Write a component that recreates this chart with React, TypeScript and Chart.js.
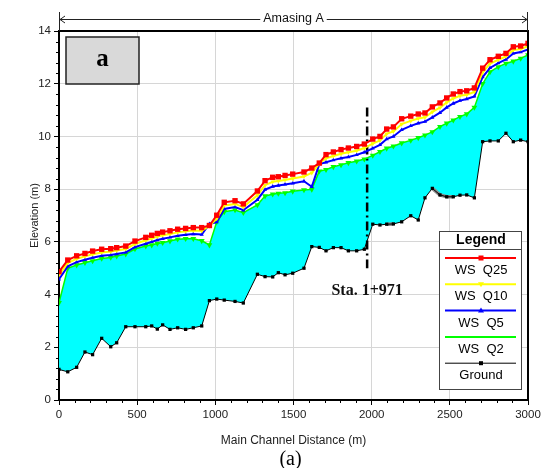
import React, { useEffect, useRef } from 'react';
import { Chart, registerables } from 'chart.js';

Chart.register(...registerables);

// ---------- data ----------
const STATIONS = [
  0, 56, 113, 166, 215, 273, 331, 369, 427, 486, 555, 593, 629, 663, 710, 759, 810, 859, 913, 962,
  1009, 1057, 1126, 1179, 1269, 1318, 1367, 1403, 1446, 1495, 1567, 1617, 1665, 1708, 1755, 1804, 1851, 1904, 1953,
  2007, 2053, 2096, 2139, 2192, 2250, 2298, 2341, 2388, 2437, 2480, 2522, 2565, 2608, 2657, 2710, 2757, 2810, 2859,
  2906, 2953, 3000,
];

const WS_Q25 = [
  4.87, 5.31, 5.47, 5.56, 5.65, 5.72, 5.74, 5.78, 5.84, 6.03, 6.17, 6.25, 6.32, 6.37, 6.42, 6.48, 6.51, 6.54, 6.54, 6.62,
  7.01, 7.50, 7.56, 7.44, 7.93, 8.32, 8.45, 8.47, 8.52, 8.57, 8.65, 8.80, 8.99, 9.31, 9.41, 9.50, 9.56, 9.62, 9.71,
  9.90, 10.0, 10.28, 10.36, 10.67, 10.77, 10.85, 10.89, 11.12, 11.27, 11.46, 11.61, 11.70, 11.73, 11.84, 12.59, 12.91, 13.04, 13.15,
  13.40, 13.43, 13.53,
];

const WS_Q10 = [
  4.75, 5.20, 5.36, 5.45, 5.53, 5.60, 5.63, 5.67, 5.73, 5.92, 6.06, 6.13, 6.20, 6.25, 6.30, 6.36, 6.40, 6.43, 6.42, 6.60,
  6.88, 7.38, 7.44, 7.32, 7.77, 8.15, 8.28, 8.31, 8.35, 8.40, 8.48, 8.62, 8.97, 9.17, 9.26, 9.34, 9.40, 9.46, 9.56,
  9.73, 9.85, 10.10, 10.19, 10.47, 10.59, 10.68, 10.73, 10.93, 11.09, 11.29, 11.44, 11.54, 11.58, 11.69, 12.43, 12.76, 12.91, 13.04,
  13.28, 13.32, 13.42,
];

const WS_Q5 = [
  4.58, 5.07, 5.23, 5.32, 5.40, 5.47, 5.50, 5.54, 5.60, 5.80, 5.93, 6.00, 6.07, 6.12, 6.17, 6.23, 6.27, 6.30, 6.28, 6.68,
  6.75, 7.25, 7.32, 7.20, 7.60, 7.98, 8.10, 8.14, 8.18, 8.22, 8.30, 8.09, 8.95, 9.02, 9.10, 9.17, 9.22, 9.30, 9.40,
  9.55, 9.68, 9.90, 10.00, 10.25, 10.40, 10.50, 10.56, 10.72, 10.90, 11.10, 11.25, 11.36, 11.42, 11.52, 12.25, 12.60, 12.78, 12.92,
  13.15, 13.20, 13.30,
];

const WS_Q2 = [
  3.69, 5.00, 5.12, 5.21, 5.28, 5.37, 5.41, 5.46, 5.54, 5.73, 5.84, 5.88, 5.94, 5.97, 6.03, 6.10, 6.12, 6.12, 6.04, 5.88,
  6.76, 7.14, 7.21, 7.11, 7.40, 7.74, 7.81, 7.84, 7.86, 7.92, 7.97, 7.99, 8.68, 8.74, 8.85, 8.92, 9.00, 9.06, 9.14,
  9.28, 9.42, 9.55, 9.63, 9.75, 9.85, 9.95, 10.05, 10.17, 10.37, 10.50, 10.62, 10.75, 10.85, 11.10, 12.00, 12.45, 12.64, 12.77,
  12.85, 12.96, 13.09,
];

const GROUND = [
  1.16, 1.07, 1.24, 1.82, 1.72, 2.34, 2.02, 2.17, 2.78, 2.78, 2.78, 2.81, 2.69, 2.85, 2.68, 2.74, 2.68, 2.74, 2.81, 3.77,
  3.83, 3.79, 3.74, 3.68, 4.77, 4.68, 4.67, 4.83, 4.75, 4.81, 5.00, 5.82, 5.79, 5.66, 5.78, 5.78, 5.66, 5.66, 5.72,
  6.67, 6.64, 6.67, 6.68, 6.76, 6.99, 6.83, 7.67, 8.03, 7.78, 7.71, 7.71, 7.77, 7.78, 7.67, 9.80, 9.83, 9.83, 10.12,
  9.80, 9.86, 9.80,
];

// grey highlighted ground segments (station, elevation)
const GRAY_X = [2096, 2139, null, 2388, 2437, 2480, 2522];
const GRAY_Y = [6.67, 6.68, null, 8.03, 7.78, 7.71, 7.71];

const SERIES_LABELS = ['WS  Q25', 'WS  Q10', 'WS  Q5', 'WS  Q2', 'Ground'];
const SERIES_COLORS = ['#ff0000', '#ffff00', '#0000ff', '#00ff00', '#000000'];

const X_MIN = 0, X_MAX = 3000, X_STEP = 500, X_MINOR = 100;
const Y_MIN = 0, Y_MAX = 14, Y_STEP = 2, Y_MINOR = 0.4;

const STA_X = 1971;
const STA_TOP = 11.1;
const STA_BOTTOM = 5.0;
const STA_LABEL = 'Sta. 1+971';
const REACH_LABEL = 'Amasing A';
const PANEL_LABEL = 'a';
const CAPTION = '(a)';
const X_TITLE = 'Main Channel Distance (m)';
const Y_TITLE = 'Elevation (m)';

const SANS = '"Liberation Sans", Arial, sans-serif';
const SERIF = '"Liberation Serif", "Times New Roman", serif';

const pts = (ys: number[]) => STATIONS.map((x, i) => ({ x, y: ys[i] }));

function drawMarker(ctx: CanvasRenderingContext2D, kind: string, x: number, y: number, color: string) {
  ctx.save();
  ctx.fillStyle = color;
  if (kind === 'rect') {
    ctx.fillRect(x - 2.5, y - 2.5, 5, 5);
  } else if (kind === 'rectSmall') {
    ctx.fillRect(x - 2, y - 2, 4, 4);
  } else if (kind === 'triDown') {
    ctx.beginPath();
    ctx.moveTo(x - 3, y - 2);
    ctx.lineTo(x + 3, y - 2);
    ctx.lineTo(x, y + 3);
    ctx.closePath();
    ctx.fill();
  } else if (kind === 'triUp') {
    ctx.beginPath();
    ctx.moveTo(x - 3, y + 2);
    ctx.lineTo(x + 3, y + 2);
    ctx.lineTo(x, y - 3);
    ctx.closePath();
    ctx.fill();
  }
  ctx.restore();
}

const decorPlugin = {
  id: 'decor',
  afterDraw(chart: any) {
    const ctx: CanvasRenderingContext2D = chart.ctx;
    const { left, right, top, bottom } = chart.chartArea;
    const xs = chart.scales.x;
    const ys = chart.scales.y;
    ctx.save();

    // frame top & right
    ctx.strokeStyle = '#000';
    ctx.lineWidth = 2;
    ctx.beginPath();
    ctx.moveTo(left - 1, top);
    ctx.lineTo(right, top);
    ctx.lineTo(right, bottom + 1);
    ctx.stroke();

    // minor ticks
    ctx.lineWidth = 1;
    ctx.beginPath();
    for (let v = X_MIN; v <= X_MAX + 0.001; v += X_MINOR) {
      if (Math.round(v) % X_STEP === 0) continue;
      const px = Math.round(xs.getPixelForValue(v)) + 0.5;
      ctx.moveTo(px, bottom);
      ctx.lineTo(px, bottom + 3);
    }
    const nMinor = Math.round((Y_MAX - Y_MIN) / Y_MINOR);
    for (let i = 0; i <= nMinor; i++) {
      if (i % Math.round(Y_STEP / Y_MINOR) === 0) continue;
      const py = Math.round(ys.getPixelForValue(Y_MIN + i * Y_MINOR)) + 0.5;
      ctx.moveTo(left - 3, py);
      ctx.lineTo(left, py);
    }
    ctx.stroke();

    // reach annotation above the plot
    const ay = top - 12;
    ctx.font = `12.5px ${SANS}`;
    ctx.fillStyle = '#111';
    ctx.textAlign = 'center';
    ctx.textBaseline = 'middle';
    const cx = (left + right) / 2;
    ctx.fillText(REACH_LABEL, cx, ay);
    const tw = ctx.measureText(REACH_LABEL).width;
    ctx.strokeStyle = '#222';
    ctx.lineWidth = 1;
    ctx.beginPath();
    ctx.moveTo(left, ay + 0.5);
    ctx.lineTo(cx - tw / 2 - 3, ay + 0.5);
    ctx.moveTo(cx + tw / 2 + 3, ay + 0.5);
    ctx.lineTo(right, ay + 0.5);
    ctx.moveTo(left + 0.5, top - 19);
    ctx.lineTo(left + 0.5, top);
    ctx.moveTo(right - 0.5, top - 19);
    ctx.lineTo(right - 0.5, top);
    ctx.moveTo(left + 6, ay - 3);
    ctx.lineTo(left + 1, ay + 0.5);
    ctx.lineTo(left + 6, ay + 4);
    ctx.moveTo(right - 6, ay - 3);
    ctx.lineTo(right - 1, ay + 0.5);
    ctx.lineTo(right - 6, ay + 4);
    ctx.stroke();

    // panel label box
    const bx = left + 7, by = top + 6, bw = 73, bh = 47;
    ctx.fillStyle = '#d9d9d9';
    ctx.fillRect(bx, by, bw, bh);
    ctx.strokeStyle = '#222';
    ctx.lineWidth = 1.5;
    ctx.strokeRect(bx, by, bw, bh);
    ctx.fillStyle = '#000';
    ctx.font = `bold 25px ${SERIF}`;
    ctx.textAlign = 'center';
    ctx.textBaseline = 'middle';
    ctx.fillText(PANEL_LABEL, bx + bw / 2, by + bh / 2 - 1);

    // station label
    const sx = xs.getPixelForValue(STA_X);
    const sy = ys.getPixelForValue(STA_BOTTOM) + 23;
    ctx.font = `bold 16px ${SERIF}`;
    ctx.fillStyle = '#111';
    ctx.fillText(STA_LABEL, sx, sy);

    // legend
    const lx = right - 89, rx = right - 7, ty = 231, byy = bottom - 11;
    ctx.fillStyle = '#fff';
    ctx.fillRect(lx, ty, rx - lx, byy - ty);
    ctx.strokeStyle = '#444';
    ctx.lineWidth = 1;
    ctx.strokeRect(lx + 0.5, ty + 0.5, rx - lx, byy - ty);
    const lcx = (lx + rx) / 2;
    ctx.fillStyle = '#000';
    ctx.font = `bold 14px ${SANS}`;
    ctx.fillText('Legend', lcx + 1, ty + 9);
    ctx.beginPath();
    ctx.moveTo(lx, ty + 18.5);
    ctx.lineTo(rx, ty + 18.5);
    ctx.stroke();
    const markers = ['rect', 'triDown', 'triUp', '', 'rectSmall'];
    for (let i = 0; i < SERIES_LABELS.length; i++) {
      const lineY = ty + 27 + i * 26.3;
      const textY = ty + 39.5 + i * 26.3;
      ctx.strokeStyle = SERIES_COLORS[i];
      ctx.lineWidth = i === 4 ? 1 : 2;
      ctx.beginPath();
      ctx.moveTo(lx + 6, lineY);
      ctx.lineTo(rx - 5, lineY);
      ctx.stroke();
      if (markers[i]) drawMarker(ctx, markers[i], lcx + 1, lineY, SERIES_COLORS[i]);
      ctx.fillStyle = '#000';
      ctx.font = `13px ${SANS}`;
      ctx.fillText(SERIES_LABELS[i], lcx + 1, textY);
    }

    // caption
    ctx.font = `20px ${SERIF}`;
    ctx.fillStyle = '#000';
    ctx.fillText(CAPTION, cx - 3, 460);

    ctx.restore();
  },
};

export default function App() {
  const ref = useRef<HTMLCanvasElement>(null);

  useEffect(() => {
    if (!ref.current) return;
    const grayData = GRAY_X.map((x, i) => (x === null ? { x: NaN, y: null } : { x, y: GRAY_Y[i] }));
    const chart = new Chart(ref.current, {
      type: 'line',
      data: {
        datasets: [
          {
            label: SERIES_LABELS[0], data: pts(WS_Q25), borderColor: SERIES_COLORS[0], backgroundColor: SERIES_COLORS[0],
            borderWidth: 2, pointStyle: 'rect', pointRadius: 3.8, pointBorderWidth: 0, fill: false,
          },
          {
            label: SERIES_LABELS[1], data: pts(WS_Q10), borderColor: SERIES_COLORS[1], backgroundColor: SERIES_COLORS[1],
            borderWidth: 2, pointStyle: 'triangle', pointRotation: 180, pointRadius: 2.6, pointBorderWidth: 0, fill: false,
          },
          {
            label: SERIES_LABELS[2], data: pts(WS_Q5), borderColor: SERIES_COLORS[2], backgroundColor: SERIES_COLORS[2],
            borderWidth: 2, pointStyle: 'triangle', pointRadius: 2.4, pointBorderWidth: 0, fill: false,
          },
          {
            label: SERIES_LABELS[3], data: pts(WS_Q2), borderColor: SERIES_COLORS[3], backgroundColor: '#00ffff',
            pointBackgroundColor: SERIES_COLORS[3], pointBorderColor: SERIES_COLORS[3],
            borderWidth: 1.5, pointStyle: 'triangle', pointRotation: 180, pointRadius: 3.4, pointBorderWidth: 0,
            fill: { target: 4 },
          },
          {
            label: SERIES_LABELS[4], data: pts(GROUND), borderColor: SERIES_COLORS[4], backgroundColor: SERIES_COLORS[4],
            borderWidth: 1, pointStyle: 'rect', pointRadius: 2.3, pointBorderWidth: 0, fill: false,
          },
          {
            label: '_gray', data: grayData as any, borderColor: '#888', borderWidth: 3.5, pointRadius: 0,
            fill: false, spanGaps: false,
          },
          {
            label: '_sta', data: [{ x: STA_X, y: STA_TOP }, { x: STA_X, y: STA_BOTTOM }], borderColor: '#000',
            borderWidth: 2.5, borderDash: [9, 4, 2, 4], pointRadius: 0, fill: false,
          },
        ],
      },
      options: {
        animation: false,
        responsive: false,
        devicePixelRatio: 1,
        layout: { padding: { top: 31, right: 19, left: 0, bottom: 0 } },
        elements: { line: { tension: 0 } },
        plugins: {
          legend: { display: false },
          tooltip: { enabled: false },
          filler: { propagate: false, drawTime: 'beforeDatasetsDraw' },
        },
        scales: {
          x: {
            type: 'linear', min: X_MIN, max: X_MAX,
            ticks: {
              stepSize: X_STEP, color: '#222', font: { family: SANS, size: 11.5 }, padding: 3,
              callback: (v: any) => String(v),
            },
            grid: { color: '#d6d6d6', lineWidth: 1, tickColor: '#000', tickLength: 5 },
            border: { color: '#000', width: 2 },
            title: {
              display: true, text: X_TITLE, color: '#222', font: { family: SANS, size: 12 },
              padding: { top: 0, bottom: 20 },
            },
            afterFit: (s: any) => { s.height = 68; },
          },
          y: {
            type: 'linear', min: Y_MIN, max: Y_MAX,
            ticks: {
              stepSize: Y_STEP, color: '#222', font: { family: SANS, size: 11.5 }, padding: 3,
              callback: (v: any) => String(v),
            },
            grid: { color: '#d6d6d6', lineWidth: 1, tickColor: '#000', tickLength: 5 },
            border: { color: '#000', width: 2 },
            title: {
              display: true, text: Y_TITLE, color: '#222', font: { family: SANS, size: 11 },
              padding: { top: 28, bottom: 0 },
            },
            afterFit: (s: any) => { s.width = 59; },
          },
        },
      },
      plugins: [decorPlugin],
    });
    return () => chart.destroy();
  }, []);

  return (
    <div style={{ position: 'absolute', left: 0, top: 0, width: 547, height: 468, background: '#fff' }}>
      <canvas ref={ref} width={547} height={468} style={{ display: 'block' }} />
    </div>
  );
}
